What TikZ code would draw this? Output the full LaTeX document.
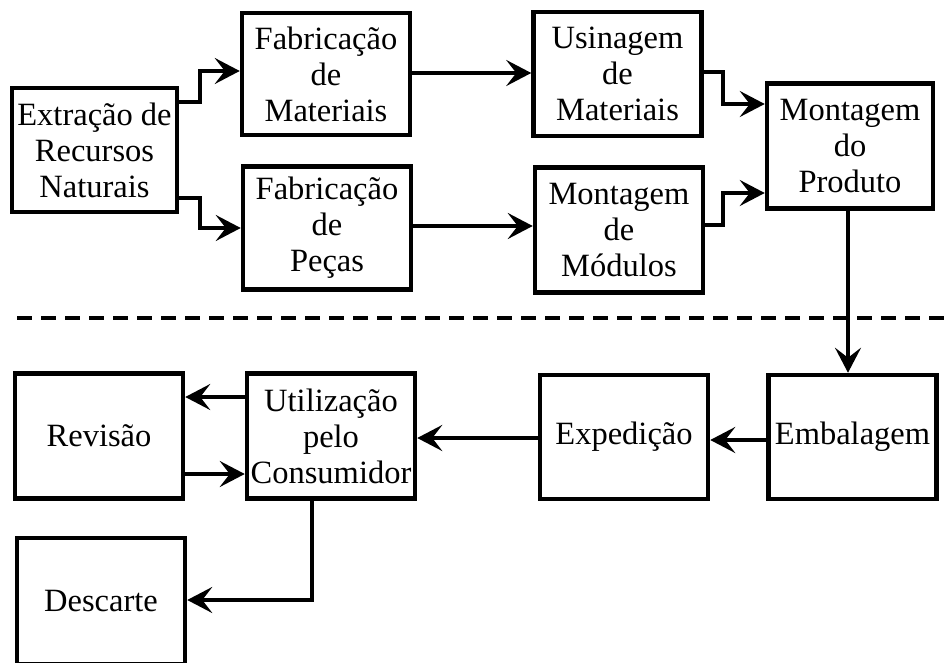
\documentclass[tikz,border=0pt]{standalone}
\usepackage{fontspec}
\setmainfont{Liberation Serif}
\usetikzlibrary{arrows.meta}
\begin{document}
\begin{tikzpicture}[x=1pt,y=-1pt,
  box/.style={draw, line width=4.5pt, inner sep=0pt, align=center,
    font=\fontsize{32.5}{36}\selectfont, minimum width=168pt, minimum height=124pt},
  conn/.style={line width=3.5pt, -{Stealth[length=25pt,width=26pt,inset=10pt]}},
  divider/.style={line width=4pt, dash pattern=on 15pt off 9pt}]
\useasboundingbox (0,0) rectangle (944,663);
\node[box, minimum width=165pt] (ext) at (94.5,150) {Extração de\\Recursos\\Naturais};
\node[box, minimum height=122pt] (fabm) at (326,74) {Fabricação\\de\\Materiais};
\node[box, minimum height=123pt] (fabp) at (327,228) {Fabricação\\de\\Peças};
\node[box] (usi) at (617.5,74) {Usinagem\\de\\Materiais};
\node[box, minimum height=125pt] (mmod) at (619,230) {Montagem\\de\\Módulos};
\node[box, minimum width=166pt, minimum height=125pt] (prod) at (850,146) {Montagem\\do\\Produto};
\node[box] (emb) at (852.5,437) {Embalagem};
\node[box] (exp) at (624,437) {Expedição};
\node[box, minimum height=125pt] (util) at (331,436) {Utilização\\pelo\\Consumidor};
\node[box, minimum height=125pt] (rev) at (99,436) {Revisão};
\node[box, minimum height=126pt] (desc) at (101,601) {Descarte};
\draw[divider] (17,318) -- (944,318);
\draw[conn] (ext.east |- 0,102) -- (200,102) |- (fabm.west |- 0,71);
\draw[conn] (ext.east |- 0,198) -- (200,198) |- (fabp.west |- 0,228);
\draw[conn] (fabm.east |- 0,73) -- (usi.west |- 0,73);
\draw[conn] (fabp.east |- 0,226) -- (mmod.west |- 0,226);
\draw[conn] (usi.east |- 0,72) -- (723,72) |- (prod.west |- 0,104);
\draw[conn] (mmod.east |- 0,225) -- (723,225) |- (prod.west |- 0,193);
\draw[conn] (prod.south -| 848,0) -- (emb.north -| 848,0);
\draw[conn] (emb.west |- 0,440) -- (exp.east |- 0,440);
\draw[conn] (exp.west |- 0,438) -- (util.east |- 0,438);
\draw[conn] (util.west |- 0,397) -- (rev.east |- 0,397);
\draw[conn] (rev.east |- 0,474) -- (util.west |- 0,474);
\draw[conn] (util.south -| 312,0) |- (desc.east |- 0,600);
\end{tikzpicture}
\end{document}
